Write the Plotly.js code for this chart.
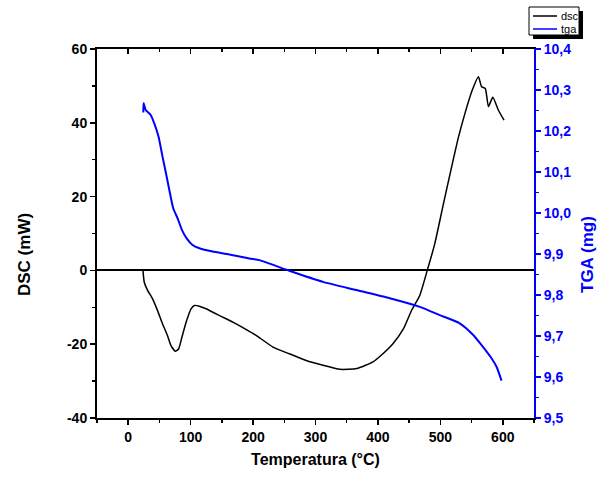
<!DOCTYPE html>
<html>
<head>
<meta charset="utf-8">
<script src="https://cdn.plot.ly/plotly-3.0.1.min.js"></script>
<style>html,body{margin:0;padding:0;background:#fff;}#chart{width:608px;height:479px;}</style>
</head>
<body>
<div id="chart"></div>
<script>
// DSC curve (mW) vs temperature (°C)
const dscTemp = [23.6, 25.7, 31, 39, 47, 55, 63, 68.5, 75.4, 80.7, 86, 93.6, 100.6, 106, 114, 124.7, 140.8, 156.8, 172.9, 194, 205, 232, 258, 285, 312, 339, 366, 392, 408, 424, 441, 454, 467, 479, 491, 505, 518, 529, 540, 551, 561, 566, 572, 577, 584, 593, 602];
const dscVal  = [0, -3.2, -5.4, -7.7, -10.9, -14.5, -17.7, -20.4, -21.9, -21.3, -18.1, -13.6, -10.4, -9.5, -9.7, -10.4, -11.8, -13.1, -14.5, -16.5, -17.6, -20.8, -22.6, -24.4, -25.7, -26.8, -26.6, -24.8, -22.6, -19.9, -15.8, -10.8, -6.8, 0, 7.2, 18.1, 28.0, 36.1, 42.9, 48.8, 52.5, 49.8, 49.3, 44.4, 46.9, 43.4, 40.7];
// TGA curve (mg) vs temperature (°C)
const tgaTemp = [24.2, 24.6, 28, 36, 41.6, 48.6, 55, 60.5, 66.9, 72.2, 79.1, 86, 93.6, 103, 114, 135, 162, 194, 210, 258, 312, 365, 419, 467, 499, 531, 553, 566, 580, 590, 598];
const tgaVal  = [10.245, 10.268, 10.251, 10.239, 10.219, 10.186, 10.137, 10.097, 10.048, 10.011, 9.987, 9.959, 9.938, 9.922, 9.914, 9.906, 9.899, 9.889, 9.885, 9.859, 9.832, 9.812, 9.792, 9.771, 9.751, 9.731, 9.702, 9.678, 9.650, 9.625, 9.591];
// tick labels
const dscTickVals = [-40, -20, 0, 20, 40, 60];
const dscTickText = ['-40', '-20', '0', '20', '40', '60'];
const seriesNames = ['dsc', 'tga'];
const seriesColors = ['#000000', '#0000ff'];

const FONT = 'Liberation Sans, Arial, sans-serif';
// plot area in pixels: x 97..534, y 49..418
const L = 97, R = 534, T = 49, B = 418;
const px = x => (x - L) / (R - L);
const py = y => (B - y) / (B - T);

const traces = [
  {x: dscTemp, y: dscVal, name: seriesNames[0], type: 'scatter', mode: 'lines',
   line: {color: seriesColors[0], width: 1.5, shape: 'spline', smoothing: 0.5}, xaxis: 'x', yaxis: 'y'},
  {x: tgaTemp, y: tgaVal, name: seriesNames[1], type: 'scatter', mode: 'lines',
   line: {color: seriesColors[1], width: 2, shape: 'spline', smoothing: 0.6}, xaxis: 'x', yaxis: 'y2'},
  {x: [null], y: [null], showlegend: false, xaxis: 'x2', yaxis: 'y', hoverinfo: 'skip'}
];

// hand-drawn legend box with drop shadow (Origin style)
const legShapes = [
  {type: 'rect', xref: 'paper', yref: 'paper', x0: px(533), x1: px(583), y0: py(39), y1: py(11),
   fillcolor: '#000', line: {width: 0}, layer: 'above'},
  {type: 'rect', xref: 'paper', yref: 'paper', x0: px(529), x1: px(579), y0: py(35), y1: py(7),
   fillcolor: '#fff', line: {color: '#000', width: 1}, layer: 'above'},
  {type: 'line', xref: 'paper', yref: 'paper', x0: px(533), x1: px(557), y0: py(16), y1: py(16),
   line: {color: seriesColors[0], width: 1.5}, layer: 'above'},
  {type: 'line', xref: 'paper', yref: 'paper', x0: px(533), x1: px(557), y0: py(29), y1: py(29),
   line: {color: seriesColors[1], width: 1.5}, layer: 'above'}
];
const annotations = [
  {text: seriesNames[0], xref: 'paper', yref: 'paper', x: px(559), y: py(16), xanchor: 'left', yanchor: 'middle',
   showarrow: false, font: {family: FONT, size: 11, color: '#000'}},
  {text: seriesNames[1], xref: 'paper', yref: 'paper', x: px(559), y: py(29), xanchor: 'left', yanchor: 'middle',
   showarrow: false, font: {family: FONT, size: 11, color: '#000'}},
  {text: 'DSC (mW)', xref: 'paper', yref: 'paper', x: px(25), y: py(255), xanchor: 'center', yanchor: 'middle',
   textangle: -90, showarrow: false, font: {family: FONT, size: 17, weight: 'bold', color: '#000'}},
  {text: 'TGA (mg)', xref: 'paper', yref: 'paper', x: px(588), y: py(255), xanchor: 'center', yanchor: 'middle',
   textangle: -90, showarrow: false, font: {family: FONT, size: 17, weight: 'bold', color: '#0000ff'}}
];

const layout = {
  width: 608, height: 479,
  margin: {l: L, r: 608 - R, t: T, b: 479 - B, autoexpand: false},
  paper_bgcolor: '#ffffff', plot_bgcolor: '#ffffff',
  separators: ',.',
  font: {family: FONT, color: '#000'},
  showlegend: false,
  xaxis: {range: [-50, 650], dtick: 100, tick0: 0, ticks: 'outside', ticklen: 5, tickwidth: 1.5,
    tickcolor: '#000', showline: true, linecolor: '#000', linewidth: 2, showgrid: false, zeroline: false,
    automargin: false,
    minor: {dtick: 50, tick0: 0, ticks: 'outside', ticklen: 3, tickwidth: 1.5, tickcolor: '#000', showgrid: false},
    tickfont: {family: FONT, size: 14, weight: 'bold', color: '#000'},
    title: {text: 'Temperatura (°C)', font: {family: FONT, size: 16, weight: 'bold', color: '#000'}, standoff: 10}},
  xaxis2: {range: [-50, 650], overlaying: 'x', side: 'top', dtick: 100, tick0: 0, ticks: 'inside', ticklen: 5,
    tickwidth: 1.5, tickcolor: '#000', showline: true, linecolor: '#000', linewidth: 2, showgrid: false,
    zeroline: false, showticklabels: false, automargin: false,
    minor: {dtick: 50, tick0: 0, ticks: 'inside', ticklen: 3, tickwidth: 1.5, tickcolor: '#000', showgrid: false}},
  yaxis: {range: [-40, 60], tickvals: dscTickVals, ticktext: dscTickText, ticks: 'outside', ticklen: 5,
    tickwidth: 1.5, tickcolor: '#000', showline: true, linecolor: '#000', linewidth: 2, showgrid: false,
    zeroline: true, zerolinecolor: '#000', zerolinewidth: 2, automargin: false,
    minor: {dtick: 10, tick0: 0, ticks: 'outside', ticklen: 3, tickwidth: 1.5, tickcolor: '#000', showgrid: false},
    tickfont: {family: FONT, size: 14, weight: 'bold', color: '#000'}},
  yaxis2: {range: [9.5, 10.4], overlaying: 'y', side: 'right', dtick: 0.1, tick0: 9.5, tickformat: '.1f',
    ticks: 'outside', ticklen: 5, tickwidth: 1.5, tickcolor: '#0000ff', showline: true, linecolor: '#0000ff',
    linewidth: 2, showgrid: false, zeroline: false, automargin: false,
    minor: {dtick: 0.05, tick0: 9.5, ticks: 'outside', ticklen: 3, tickwidth: 1.5, tickcolor: '#0000ff', showgrid: false},
    tickfont: {family: FONT, size: 14, weight: 'bold', color: '#0000ff'}},
  shapes: legShapes,
  annotations: annotations
};
Plotly.newPlot('chart', traces, layout, {displayModeBar: false, staticPlot: true});
</script>
</body>
</html>
